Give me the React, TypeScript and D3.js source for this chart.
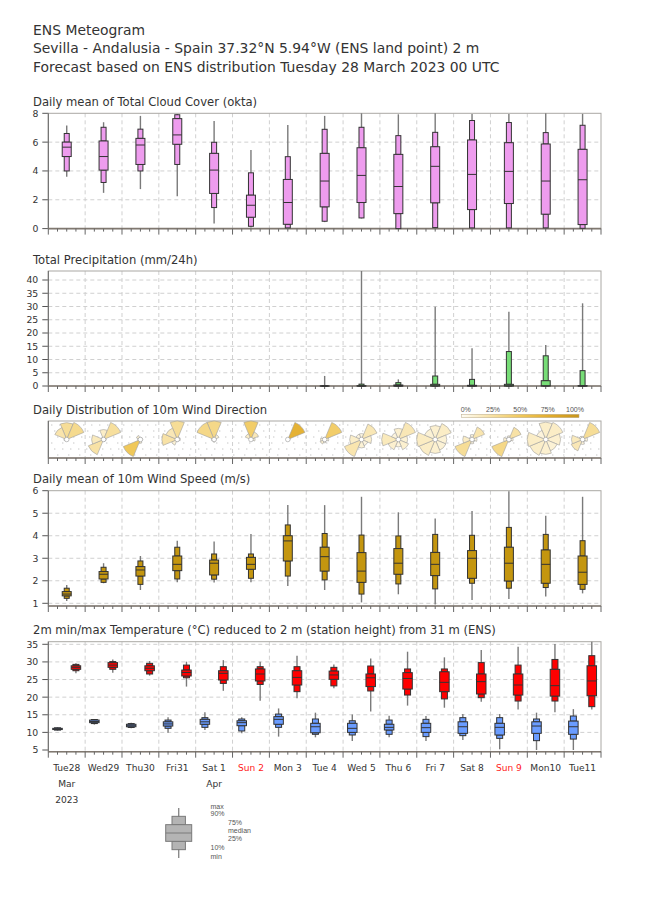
import React, { useEffect, useRef } from 'react';
import * as d3 from 'd3';

const dayLabels = ['Tue28', 'Wed29', 'Thu30', 'Fri31', 'Sat 1', 'Sun 2', 'Mon 3', 'Tue 4', 'Wed 5', 'Thu 6', 'Fri 7', 'Sat 8', 'Sun 9', 'Mon10', 'Tue11'];
const sundayLabels = ['Sun 2', 'Sun 9'];
const monthLabels: { day: string; lines: string[] }[] = [
  { day: 'Tue28', lines: ['Mar', '2023'] },
  { day: 'Sat 1', lines: ['Apr'] },
];

// each row: [min, p10, p25, median, p75, p90, max]
const cloudCover = [
  [3.6, 4.0, 5.0, 5.65, 6.0, 6.6, 7.15],
  [2.48, 3.2, 4.06, 5.0, 6.08, 7.03, 7.38],
  [2.74, 4.0, 4.45, 5.8, 6.26, 6.9, 7.82],
  [2.25, 4.45, 5.85, 6.5, 7.63, 7.9, 7.96],
  [0.35, 1.46, 2.44, 4.06, 5.22, 5.99, 7.47],
  [0.07, 0.16, 0.79, 1.62, 2.32, 3.87, 5.45],
  [0, 0.05, 0.3, 1.81, 3.41, 4.99, 7.19],
  [0.45, 0.51, 1.51, 3.3, 5.22, 6.89, 7.82],
  [0.7, 0.74, 1.81, 3.69, 5.61, 7.03, 8.0],
  [0, 0, 1.04, 2.92, 5.15, 6.45, 7.93],
  [0, 0.07, 1.79, 4.32, 5.68, 6.68, 8.0],
  [0, 0.05, 1.32, 3.76, 6.15, 7.5, 7.96],
  [0, 0.05, 1.74, 3.97, 5.96, 7.36, 7.96],
  [0, 0.05, 1.0, 3.3, 5.87, 6.66, 8.0],
  [0, 0.02, 0.28, 3.39, 5.5, 7.17, 7.96],
];

const precipitation = [
  [0, 0, 0, 0, 0, 0, 0],
  [0, 0, 0, 0, 0, 0, 0],
  [0, 0, 0, 0, 0, 0, 0],
  [0, 0, 0, 0, 0, 0, 0],
  [0, 0, 0, 0, 0, 0, 0],
  [0, 0, 0, 0, 0, 0, 0],
  [0, 0, 0, 0, 0, 0, 0],
  [0, 0, 0, 0, 0, 0, 3.8],
  [0, 0, 0, 0, 0.1, 0.7, 43.4],
  [0, 0, 0, 0, 0.38, 1.26, 2.5],
  [0, 0, 0, 0.1, 0.63, 3.77, 29.9],
  [0, 0, 0, 0, 0.25, 2.5, 14.2],
  [0, 0, 0, 0.1, 0.63, 13.0, 28.0],
  [0, 0, 0, 0.1, 2.0, 11.4, 15.5],
  [0, 0, 0, 0, 0.13, 5.8, 31.2],
];

const windSpeed = [
  [1.1, 1.22, 1.33, 1.41, 1.52, 1.67, 1.81],
  [1.89, 1.93, 2.08, 2.29, 2.41, 2.6, 2.78],
  [1.59, 1.84, 2.21, 2.48, 2.63, 2.88, 3.1],
  [1.93, 2.08, 2.45, 2.73, 3.1, 3.49, 3.78],
  [1.92, 2.07, 2.26, 2.78, 2.92, 3.19, 3.74],
  [1.93, 2.11, 2.51, 2.73, 3.04, 3.19, 4.08],
  [1.77, 2.21, 2.88, 3.77, 4.0, 4.48, 5.36],
  [1.59, 2.04, 2.43, 3.07, 3.49, 4.1, 5.36],
  [1.04, 1.41, 1.93, 2.43, 3.25, 4.03, 5.73],
  [1.4, 1.86, 2.29, 2.78, 3.43, 3.99, 5.04],
  [0.95, 1.64, 2.23, 2.73, 3.26, 4.06, 4.77],
  [1.15, 1.89, 2.11, 3.0, 3.34, 4.02, 5.1],
  [1.19, 1.67, 1.99, 2.78, 3.49, 4.37, 5.98],
  [1.3, 1.7, 1.89, 2.73, 3.37, 4.06, 4.89],
  [1.44, 1.62, 1.84, 2.38, 3.1, 3.78, 5.73],
];

const tempMin = [
  [10.5, 10.65, 10.8, 10.95, 11.15, 11.3, 11.45],
  [12.2, 12.5, 12.76, 13.1, 13.5, 13.65, 13.8],
  [11.15, 11.4, 11.6, 11.9, 12.3, 12.5, 12.76],
  [9.9, 11.15, 11.8, 12.4, 13.0, 13.5, 14.27],
  [10.68, 11.43, 12.3, 13.0, 13.7, 14.18, 15.7],
  [9.73, 10.4, 11.9, 12.76, 13.3, 13.8, 14.27],
  [8.8, 11.43, 12.3, 13.7, 14.46, 15.2, 16.8],
  [8.6, 9.45, 9.9, 11.6, 12.57, 13.8, 15.6],
  [7.55, 9.26, 10.0, 11.15, 12.57, 13.3, 15.1],
  [8.6, 9.45, 10.68, 11.43, 12.3, 13.5, 14.74],
  [7.55, 8.8, 10.0, 11.34, 12.57, 13.7, 14.65],
  [7.84, 9.07, 9.73, 11.6, 13.0, 14.18, 15.2],
  [5.2, 8.3, 9.26, 11.43, 12.57, 14.18, 15.2],
  [5.0, 7.65, 9.73, 11.8, 13.0, 13.8, 15.6],
  [5.0, 8.1, 9.45, 11.6, 13.2, 14.65, 16.6],
];

const tempMax = [
  [26.76, 27.5, 27.9, 28.46, 28.9, 29.3, 29.6],
  [26.95, 27.9, 28.46, 29.1, 29.8, 30.1, 30.7],
  [26.1, 26.57, 27.5, 28.2, 28.9, 29.6, 30.26],
  [23.0, 25.5, 26.0, 27.0, 27.7, 29.1, 30.07],
  [21.8, 23.9, 24.87, 26.76, 27.5, 28.65, 30.5],
  [19.0, 23.6, 24.6, 26.57, 28.0, 28.65, 30.07],
  [19.66, 21.56, 23.45, 25.6, 27.5, 28.65, 31.77],
  [22.5, 23.2, 25.06, 26.3, 27.4, 28.46, 29.3],
  [15.9, 21.75, 23.0, 25.5, 26.57, 28.84, 31.0],
  [17.6, 20.6, 22.3, 25.3, 26.95, 28.0, 32.9],
  [17.0, 19.5, 21.56, 24.2, 27.2, 28.0, 31.3],
  [18.7, 19.85, 20.9, 24.4, 26.57, 29.8, 33.4],
  [16.5, 18.9, 20.6, 23.45, 26.57, 29.1, 34.3],
  [15.7, 18.9, 20.3, 23.26, 27.9, 30.7, 35.1],
  [16.5, 17.3, 20.4, 24.6, 28.9, 31.77, 35.7],
];

// wind direction frequencies per day: N, NE, E, SE, S, SW, W, NW
const windDirections = ['N', 'NE', 'E', 'SE', 'S', 'SW', 'W', 'NW'];
const windFrequency = [
  [0.30, 0.33, 0.03, 0.02, 0.02, 0.02, 0.05, 0.23],
  [0.15, 0.28, 0.04, 0.03, 0.03, 0.25, 0.18, 0.04],
  [0.06, 0.04, 0.06, 0.04, 0.10, 0.50, 0.08, 0.12],
  [0.30, 0.05, 0.05, 0.02, 0.03, 0.10, 0.25, 0.20],
  [0.35, 0.10, 0.04, 0.03, 0.05, 0.03, 0.05, 0.35],
  [0.45, 0.20, 0.10, 0.03, 0.02, 0.02, 0.03, 0.15],
  [0.04, 0.70, 0.08, 0.04, 0.03, 0.03, 0.04, 0.04],
  [0.05, 0.45, 0.10, 0.05, 0.08, 0.12, 0.10, 0.05],
  [0.07, 0.20, 0.12, 0.08, 0.10, 0.22, 0.14, 0.07],
  [0.12, 0.20, 0.10, 0.12, 0.08, 0.12, 0.18, 0.08],
  [0.12, 0.15, 0.10, 0.10, 0.12, 0.15, 0.16, 0.10],
  [0.08, 0.22, 0.08, 0.05, 0.07, 0.30, 0.15, 0.05],
  [0.07, 0.25, 0.08, 0.05, 0.05, 0.35, 0.10, 0.05],
  [0.14, 0.15, 0.12, 0.10, 0.12, 0.14, 0.15, 0.08],
  [0.05, 0.30, 0.08, 0.05, 0.08, 0.20, 0.18, 0.06],
];

const cloudTicks = [0, 2, 4, 6, 8];
const precipTicks = [0, 5, 10, 15, 20, 25, 30, 35, 40];
const speedTicks = [1, 2, 3, 4, 5, 6];
const tempTicks = [5, 10, 15, 20, 25, 30, 35];
const colorbarTicks = [0, 0.25, 0.5, 0.75, 1];
const colorbarColours = ['#fffdf5', '#f8e2a6', '#f0c85a', '#e2ac2c', '#c8951a'];
const legendLabels = ['min', '10%', '25%', 'median', '75%', '90%', 'max'];

const DAY = 86400000;
const START = Date.UTC(2023, 2, 28);
const END = Date.UTC(2023, 3, 12);
const FONT = 'DejaVu Sans, sans-serif';
const SMALL_FONT = 'Liberation Sans, Arial, sans-serif';

type Stats = number[];

const App: React.FC = () => {
  const ref = useRef<SVGSVGElement>(null);

  useEffect(() => {
    if (!ref.current) return;
    const svg = d3.select(ref.current);
    svg.selectAll('*').remove();

    const x = d3.scaleUtc().domain([START, END]).range([48.3, 601]);
    const [x0, x1] = x.range();
    const dayTime = (i: number, frac: number) => START + (i + frac) * DAY;

    // titles
    const titles = [
      'ENS Meteogram',
      'Sevilla - Andalusia - Spain 37.32°N 5.94°W (ENS land point) 2 m',
      'Forecast based on ENS distribution Tuesday 28 March 2023 00 UTC',
    ];
    titles.forEach((t, i) => {
      svg.append('text')
        .attr('x', 33).attr('y', 35 + i * 18.4)
        .attr('font-family', FONT).attr('font-size', 13.9)
        .attr('fill', '#333').text(t);
    });

    const panel = (opts: {
      top: number; bottom: number; title: string;
      y?: d3.ScaleLinear<number, number>; ticks?: number[];
    }) => {
      const g = svg.append('g');
      g.append('text')
        .attr('x', 33).attr('y', opts.top - 7.4)
        .attr('font-family', FONT).attr('font-size', 11.6)
        .attr('fill', '#333').text(opts.title);

      // vertical grid
      d3.range(1, 15).forEach(i => {
        g.append('line')
          .attr('x1', x(dayTime(i, 0))).attr('x2', x(dayTime(i, 0)))
          .attr('y1', opts.top).attr('y2', opts.bottom)
          .attr('stroke', '#d0d0d0').attr('stroke-dasharray', '4,3');
      });
      if (opts.y && opts.ticks) {
        const y = opts.y;
        opts.ticks.forEach(t => {
          const yy = y(t);
          if (yy > opts.top + 2 && yy < opts.bottom - 2) {
            g.append('line')
              .attr('x1', x0).attr('x2', x1).attr('y1', yy).attr('y2', yy)
              .attr('stroke', '#d0d0d0').attr('stroke-dasharray', '4,3');
          }
          g.append('line')
            .attr('x1', x0 - 6).attr('x2', x0).attr('y1', yy).attr('y2', yy)
            .attr('stroke', '#555');
          g.append('text')
            .attr('x', x0 - 10).attr('y', yy + 3.4)
            .attr('text-anchor', 'end')
            .attr('font-family', FONT).attr('font-size', 9.3)
            .attr('fill', '#333').text(t);
        });
      }
      // frame
      g.append('rect')
        .attr('x', x0).attr('y', opts.top)
        .attr('width', x1 - x0).attr('height', opts.bottom - opts.top)
        .attr('fill', 'none').attr('stroke', '#aaa8a4');
      g.append('line')
        .attr('x1', x0).attr('x2', x0).attr('y1', opts.top).attr('y2', opts.bottom)
        .attr('stroke', '#666');
      g.append('line')
        .attr('x1', x0).attr('x2', x1).attr('y1', opts.bottom).attr('y2', opts.bottom)
        .attr('stroke', '#807870').attr('stroke-width', 1.6);
      // x ticks every 6h
      d3.range(0, 15 * 4 + 1).forEach(k => {
        const xx = x(START + k * DAY / 4);
        g.append('line')
          .attr('x1', xx).attr('x2', xx)
          .attr('y1', opts.bottom).attr('y2', opts.bottom + (k % 4 === 0 ? 6 : 3))
          .attr('stroke', '#666');
      });
      return g;
    };

    const drawBox = (
      g: d3.Selection<SVGGElement, unknown, null, undefined>,
      cx: number, s: Stats, y: (v: number) => number,
      fill: string, wide = 9, narrow = 5, stroke = '#333', whisker = '#7a7a7a'
    ) => {
      const [mn, p10, p25, med, p75, p90, mx] = s.map(y);
      g.append('line')
        .attr('x1', cx).attr('x2', cx).attr('y1', mn).attr('y2', mx)
        .attr('stroke', whisker).attr('stroke-width', 1.4);
      const rect = (a: number, b: number, w: number) => {
        g.append('rect')
          .attr('x', cx - w / 2).attr('y', Math.min(a, b))
          .attr('width', w).attr('height', Math.max(Math.abs(a - b), 0.01))
          .attr('fill', fill).attr('stroke', stroke).attr('stroke-width', 1);
      };
      rect(p75, p90, narrow);
      rect(p10, p25, narrow);
      rect(p25, p75, wide);
      g.append('line')
        .attr('x1', cx - wide / 2).attr('x2', cx + wide / 2)
        .attr('y1', med).attr('y2', med)
        .attr('stroke', stroke).attr('stroke-width', 1);
    };

    // cloud cover
    const yCloud = d3.scaleLinear().domain([0, 8]).range([228.6, 113.3]);
    const gCloud = panel({ top: 113.3, bottom: 228.6, title: 'Daily mean of Total Cloud Cover (okta)', y: yCloud, ticks: cloudTicks });
    cloudCover.forEach((s, i) => drawBox(gCloud, x(dayTime(i, 0.5)), s, yCloud, '#ee9cee'));

    // precipitation
    const yPrec = d3.scaleLinear().domain([0, 40]).range([386, 280]);
    const gPrec = panel({ top: 271, bottom: 386, title: 'Total Precipitation (mm/24h)', y: yPrec, ticks: precipTicks });
    precipitation.forEach((s, i) => {
      if (d3.max(s)! <= 0) return;
      drawBox(gPrec, x(dayTime(i, 0.5)), s, yPrec, '#77dd77');
    });

    // wind direction
    const gDir = panel({ top: 421, bottom: 458, title: 'Daily Distribution of 10m Wind Direction' });
    // dotted background
    [425, 431, 437, 443, 449, 455].forEach((yy, j) => {
      gDir.append('line')
        .attr('x1', x0 + 3 + (j % 3) * 3).attr('x2', x1).attr('y1', yy).attr('y2', yy)
        .attr('stroke', '#b0b0b0').attr('stroke-width', 1)
        .attr('stroke-dasharray', `1,${7 + (j % 2) * 3}`);
    });
    const colour = d3.scaleLinear<string>().domain(colorbarTicks).range(colorbarColours).clamp(true);
    const arc = d3.arc<{ r: number; a: number }>()
      .innerRadius(0)
      .outerRadius(d => d.r)
      .startAngle(d => d.a - Math.PI / 8)
      .endAngle(d => d.a + Math.PI / 8);
    const rMax = 18.5;
    const cy = 439.5;
    windFrequency.forEach((fr, i) => {
      const cx = x(dayTime(i, 0.5));
      const fmax = d3.max(fr)!;
      const rg = gDir.append('g').attr('transform', `translate(${cx},${cy})`);
      fr.forEach((f, k) => {
        rg.append('path')
          .attr('d', arc({ r: rMax * f / fmax, a: (k * Math.PI) / 4 })!)
          .attr('fill', colour(f))
          .attr('stroke', '#a0a0a0').attr('stroke-width', 0.6)
          .append('title').text(windDirections[k]);
      });
      rg.append('circle').attr('r', 2.3).attr('fill', '#fff').attr('stroke', '#999').attr('stroke-width', 0.6);
    });
    // colour bar
    const cb = d3.scaleLinear().domain([0, 1]).range([465.7, 575]);
    const defs = svg.append('defs');
    const grad = defs.append('linearGradient').attr('id', 'cbar');
    colorbarTicks.forEach((t, k) => {
      grad.append('stop').attr('offset', `${t * 100}%`).attr('stop-color', colorbarColours[k]);
    });
    svg.append('rect')
      .attr('x', 461.5).attr('y', 414.3).attr('width', 117.5).attr('height', 3.4)
      .attr('fill', 'url(#cbar)').attr('stroke', '#b8a888').attr('stroke-width', 0.5);
    colorbarTicks.forEach(t => {
      svg.append('text')
        .attr('x', cb(t)).attr('y', 411.5).attr('text-anchor', 'middle')
        .attr('font-family', SMALL_FONT).attr('font-size', 7)
        .attr('fill', '#555').text(`${Math.round(t * 100)}%`);
    });

    // wind speed
    const ySpeed = d3.scaleLinear().domain([1, 6]).range([603.3, 490.7]);
    const gSpeed = panel({ top: 490.7, bottom: 606, title: 'Daily mean of 10m Wind Speed (m/s)', y: ySpeed, ticks: speedTicks });
    windSpeed.forEach((s, i) => drawBox(gSpeed, x(dayTime(i, 0.5)), s, ySpeed, '#c4960f'));

    // temperature
    const yTemp = d3.scaleLinear().domain([5, 35]).range([750, 644.3]);
    const gTemp = panel({
      top: 641.7, bottom: 751.7,
      title: '2m min/max Temperature (°C) reduced to 2 m (station height) from 31 m (ENS)',
      y: yTemp, ticks: tempTicks,
    });
    tempMin.forEach((s, i) => drawBox(gTemp, x(dayTime(i, 0.25)), s, yTemp, '#6a9cff', 9.5, 6));
    tempMax.forEach((s, i) => drawBox(gTemp, x(dayTime(i, 0.75)), s, yTemp, '#ff0000', 9.5, 6));

    // day labels
    dayLabels.forEach((d, i) => {
      const cx = x(dayTime(i, 0.5));
      svg.append('text')
        .attr('x', cx).attr('y', 770.5).attr('text-anchor', 'middle')
        .attr('font-family', FONT).attr('font-size', 9.1)
        .attr('fill', sundayLabels.includes(d) ? '#ff1a1a' : '#333').text(d);
      const m = monthLabels.find(l => l.day === d);
      if (m) {
        m.lines.forEach((line, j) => {
          svg.append('text')
            .attr('x', cx).attr('y', 786.5 + j * 16).attr('text-anchor', 'middle')
            .attr('font-family', FONT).attr('font-size', 9.1)
            .attr('fill', '#333').text(line);
        });
      }
    });

    // legend
    const gLeg = svg.append('g');
    const yLeg = d3.scaleLinear().domain([0, 6]).range([858, 808]);
    drawBox(gLeg, 178.7, d3.range(0, 7), yLeg, '#b4b4b4', 26, 13.4, '#7a7a7a', '#8a8a8a');
    const legendY = [859, 850, 841, 833, 825, 816, 809];
    legendLabels.forEach((l, k) => {
      const inner = k >= 2 && k <= 4;
      svg.append('text')
        .attr('x', inner ? 228 : 210.5)
        .attr('y', legendY[k])
        .attr('font-family', SMALL_FONT).attr('font-size', 7)
        .attr('fill', '#555').text(l);
    });
  }, []);

  return (
    <svg
      ref={ref}
      width={650}
      height={916}
      style={{ position: 'absolute', left: 0, top: 0, background: '#fff' }}
    />
  );
};

export default App;
